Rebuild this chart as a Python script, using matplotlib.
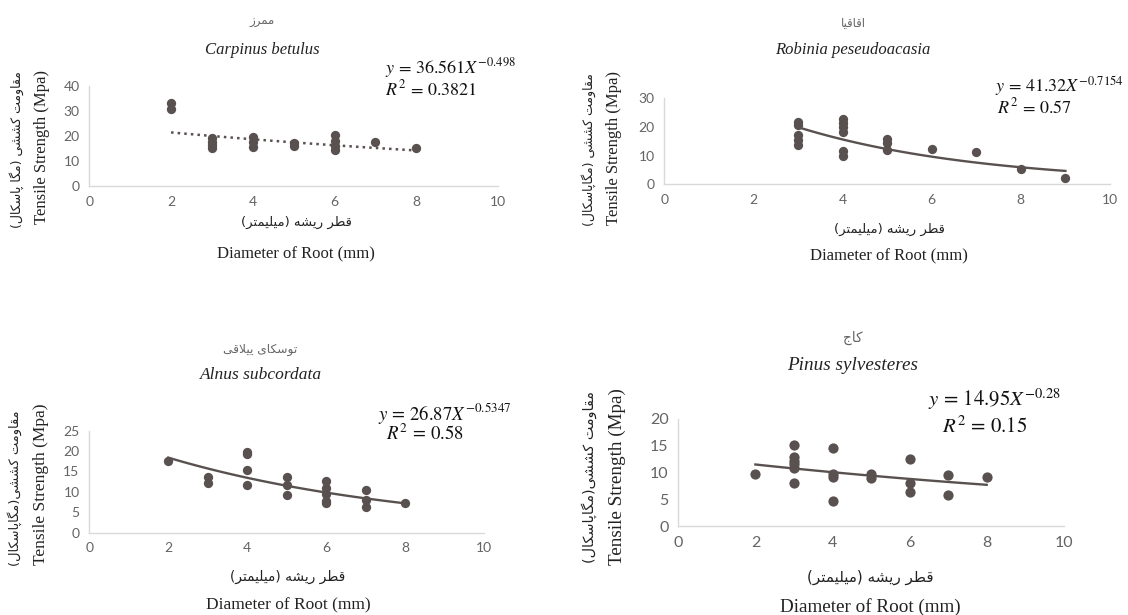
import numpy as np
import matplotlib
matplotlib.use('Agg')
import matplotlib.pyplot as plt

W, H = 1128, 615

# ---------------- data ----------------
carpinus_x = [2, 2, 3, 3, 3, 3, 4, 4, 4, 5, 5, 6, 6, 6, 6, 7, 8]
carpinus_y = [33.3, 30.7, 19.0, 17.7, 16.3, 15.0, 19.7, 17.7, 15.7, 17.3, 15.9,
              20.3, 18.1, 16.1, 14.2, 17.7, 15.3]

robinia_x = [3, 3, 3, 3, 3, 4, 4, 4, 4, 4, 4, 5, 5, 5, 6, 7, 8, 9]
robinia_y = [21.9, 20.8, 17.2, 15.5, 13.7, 22.7, 21.3, 19.9, 18.4, 11.6, 9.7,
             15.7, 14.5, 11.8, 12.3, 11.2, 5.3, 2.1]

alnus_x = [2, 3, 3, 4, 4, 4, 4, 5, 5, 5, 6, 6, 6, 6, 6, 7, 7, 7, 8]
alnus_y = [17.6, 13.6, 12.1, 19.9, 19.2, 15.4, 11.7, 13.7, 11.7, 9.2, 12.7, 10.9,
           9.6, 7.8, 7.2, 10.5, 8.0, 6.4, 7.2]

pinus_x = [2, 3, 3, 3, 3, 3, 3, 4, 4, 4, 4, 5, 5, 6, 6, 6, 7, 7, 8]
pinus_y = [9.7, 15.2, 12.9, 12.2, 11.5, 10.9, 8.0, 14.5, 9.8, 9.1, 4.7, 9.7, 8.9,
           12.6, 8.0, 6.4, 9.5, 5.8, 9.2]

# drawn trend curves (as they appear): y = a * exp(c * x) over [x0, x1]
carpinus_trend = (24.5, -0.0684, 2, 8)
robinia_trend = (41.2, -0.242, 3, 9)
alnus_trend = (25.16, -0.1564, 2, 8)
pinus_trend = (13.14, -0.0668, 2, 8)

fa_names = ['ممرز', 'اقاقیا', 'توسکای ییلاقی', 'کاج']
species = ['Carpinus betulus', 'Robinia peseudoacasia', 'Alnus subcordata', 'Pinus sylvesteres']
equations = [r'$y\,=\,36.561X^{-0.498}$', r'$y\,=\,41.32X^{-0.7154}$',
             r'$y\,=\,26.87X^{-0.5347}$', r'$y\,=\,14.95X^{-0.28}$']
r2_texts = [r'$R^{2}\,=\,0.3821$', r'$R^{2}\,=\,0.57$', r'$R^{2}\,=\,0.58$', r'$R^{2}\,=\,0.15$']
fa_ylabels = ['مقاومت کششی (مگا پاسکال)', 'مقاومت کششی (مگاپاسکال)',
              'مقاومت کششی(مگاپاسکال)', 'مقاومت کششی(مگاپاسکال)']
fa_xlabel = 'قطر ریشه (میلیمتر)'
en_xlabel = 'Diameter of Root (mm)'
en_ylabel = 'Tensile Strength (Mpa)'
x_ticks = [0, 2, 4, 6, 8, 10]
y_maxes = [40, 30, 25, 20]
y_steps = [10, 10, 5, 5]

# ---------------- minimal Persian shaping (presentation forms) ----------------
FORMS = {
    'ا': ('\uFE8D', '\uFE8E'),
    'پ': ('\uFB56', '\uFB57', '\uFB58', '\uFB59'),
    'ت': ('\uFE95', '\uFE96', '\uFE97', '\uFE98'),
    'ج': ('\uFE9D', '\uFE9E', '\uFE9F', '\uFEA0'),
    'ر': ('\uFEAD', '\uFEAE'),
    'ز': ('\uFEAF', '\uFEB0'),
    'س': ('\uFEB1', '\uFEB2', '\uFEB3', '\uFEB4'),
    'ش': ('\uFEB5', '\uFEB6', '\uFEB7', '\uFEB8'),
    'ط': ('\uFEC1', '\uFEC2', '\uFEC3', '\uFEC4'),
    'ق': ('\uFED5', '\uFED6', '\uFED7', '\uFED8'),
    'ک': ('\uFB8E', '\uFB8F', '\uFB90', '\uFB91'),
    'گ': ('\uFB92', '\uFB93', '\uFB94', '\uFB95'),
    'ل': ('\uFEDD', '\uFEDE', '\uFEDF', '\uFEE0'),
    'م': ('\uFEE1', '\uFEE2', '\uFEE3', '\uFEE4'),
    'ه': ('\uFEE9', '\uFEEA', '\uFEEB', '\uFEEC'),
    'و': ('\uFEED', '\uFEEE'),
    'ی': ('\uFBFC', '\uFBFD', '\uFBFE', '\uFBFF'),
}


def shape_fa(text):
    toks, i = [], 0
    while i < len(text):
        if text[i] == 'ل' and i + 1 < len(text) and text[i + 1] == 'ا':
            toks.append('LA'); i += 2
        else:
            toks.append(text[i]); i += 1

    def is_letter(t):
        return t == 'LA' or t in FORMS

    def joins_fwd(t):
        return t != 'LA' and t in FORMS and len(FORMS[t]) == 4

    out = []
    for k, t in enumerate(toks):
        if not is_letter(t):
            out.append(t); continue
        prev = k > 0 and joins_fwd(toks[k - 1])
        nxt = k + 1 < len(toks) and is_letter(toks[k + 1])
        if t == 'LA':
            out.append('\uFEFC' if prev else '\uFEFB'); continue
        f = FORMS[t]
        if len(f) == 4:
            if prev and nxt:
                out.append(f[3])
            elif prev:
                out.append(f[1])
            elif nxt:
                out.append(f[2])
            else:
                out.append(f[0])
        else:
            out.append(f[1] if prev else f[0])
    mirror = {'(': ')', ')': '('}
    return ''.join(mirror.get(c, c) for c in reversed(out))


# ---------------- layout ----------------
plt.rcParams['mathtext.fontset'] = 'stix'
fig = plt.figure(figsize=(W / 100, H / 100), dpi=100)
fig.patch.set_facecolor('white')

FA = ['DejaVu Sans']
SERIF = ['Liberation Serif', 'DejaVu Serif']
TICKF = ['Lato', 'DejaVu Sans']
PT = '#595150'
GRAY = '#646464'
AX = '#d9d9d9'


def fx(x):
    return x / W


def fy(y):
    return 1 - y / H


layouts = [
    dict(box=(89.3, 498, 85.7, 186), tfs=10, title_fa=(262, 22), title_sp=(262, 50),
         eq=(385, 68), r2=(385, 89), xl_fa=(296, 222), xl_en=(296, 254),
         yl_fa=(17, 150), yl_en=(42, 147), fs=1.0),
    dict(box=(664.3, 1110, 98.3, 184.3), tfs=10, title_fa=(853, 23), title_sp=(853, 50),
         eq=(995, 86), r2=(997, 107), xl_fa=(889, 229), xl_en=(889, 256),
         yl_fa=(589, 150), yl_en=(614, 148), fs=1.0),
    dict(box=(89.3, 484, 430.7, 532.7), tfs=10, title_fa=(260, 349), title_sp=(261, 375),
         eq=(378, 413), r2=(386, 434), xl_fa=(288, 577), xl_en=(288, 605),
         yl_fa=(15, 488), yl_en=(41, 484), fs=1.04),
    dict(box=(678.3, 1063.8, 419, 526), tfs=11.5, title_fa=(853, 338), title_sp=(853, 365),
         eq=(928, 399), r2=(942, 426), xl_fa=(870, 577), xl_en=(870, 607),
         yl_fa=(589, 477), yl_en=(617, 477), fs=1.15),
]

series = [(carpinus_x, carpinus_y, carpinus_trend, ':'),
          (robinia_x, robinia_y, robinia_trend, '-'),
          (alnus_x, alnus_y, alnus_trend, '-'),
          (pinus_x, pinus_y, pinus_trend, '-')]

for i, (lay, (xs, ys, tr, ls)) in enumerate(zip(layouts, series)):
    l, r, t, b = lay['box']
    ax = fig.add_axes([fx(l), fy(b), (r - l) / W, (b - t) / H])
    ax.set_xlim(0, 10)
    ax.set_ylim(0, y_maxes[i])
    ax.set_xticks(x_ticks)
    ax.set_yticks(np.arange(0, y_maxes[i] + 0.1, y_steps[i]))
    for s in ['top', 'right']:
        ax.spines[s].set_visible(False)
    for s in ['left', 'bottom']:
        ax.spines[s].set_color(AX)
        ax.spines[s].set_linewidth(1.0)
    ax.tick_params(length=0, colors=GRAY, labelsize=lay['tfs'], pad=7)
    for lab in ax.get_xticklabels() + ax.get_yticklabels():
        lab.set_family(TICKF)
    ax.set_facecolor('none')

    ms = 6.7 * (1.1 if i == 3 else 1.0)
    ax.plot(xs, ys, 'o', color=PT, markersize=ms, markeredgewidth=0, clip_on=False, zorder=3)
    a, c, x0, x1 = tr
    xx = np.linspace(x0, x1, 100)
    lw = 1.8 if ls == ':' else 1.7
    ax.plot(xx, a * np.exp(c * xx), ls, color=PT, lw=lw, clip_on=False, zorder=2)

    k = lay['fs']
    fig.text(fx(lay['title_fa'][0]), fy(lay['title_fa'][1]), shape_fa(fa_names[i]),
             family=FA, fontsize=8.5 * k, color='#666666', ha='center', va='center')
    fig.text(fx(lay['title_sp'][0]), fy(lay['title_sp'][1]), species[i],
             family=SERIF, style='italic', fontsize=12 * k, color='#222222', ha='center', va='center')
    fig.text(fx(lay['eq'][0]), fy(lay['eq'][1]), equations[i],
             fontsize=13 * k, color='#111111', ha='left', va='center')
    fig.text(fx(lay['r2'][0]), fy(lay['r2'][1]), r2_texts[i],
             fontsize=13 * k, color='#111111', ha='left', va='center')
    fig.text(fx(lay['xl_fa'][0]), fy(lay['xl_fa'][1]), shape_fa(fa_xlabel),
             family=FA, fontsize=9.5 * k, color='#222222', ha='center', va='center')
    fig.text(fx(lay['xl_en'][0]), fy(lay['xl_en'][1]), en_xlabel,
             family=SERIF, fontsize=12 * k, color='#222222', ha='center', va='center')
    fig.text(fx(lay['yl_fa'][0]), fy(lay['yl_fa'][1]), shape_fa(fa_ylabels[i]),
             family=FA, fontsize=9 * k, color='#222222', ha='center', va='center', rotation=90)
    fig.text(fx(lay['yl_en'][0]), fy(lay['yl_en'][1]), en_ylabel,
             family=SERIF, fontsize=12 * k, color='#222222', ha='center', va='center', rotation=90)

fig.savefig('out.png', dpi=100, facecolor='white')
